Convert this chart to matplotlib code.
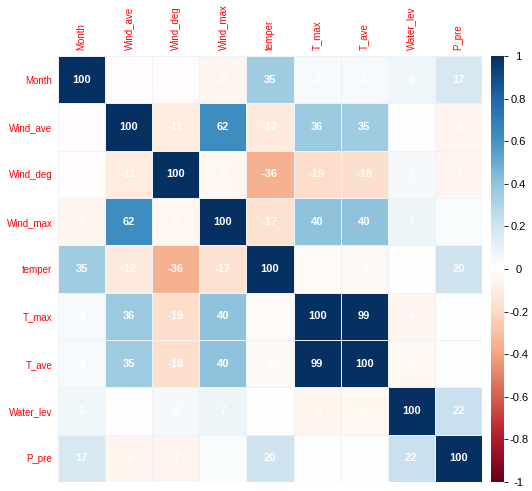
import numpy as np
import matplotlib
matplotlib.use("Agg")
import matplotlib.pyplot as plt
from matplotlib.colors import LinearSegmentedColormap

plt.rcParams['font.family'] = ['Liberation Sans', 'DejaVu Sans']

# variables du tableau de correlation
variables = ['Month', 'Wind_ave', 'Wind_deg', 'Wind_max', 'temper',
             'T_max', 'T_ave', 'Water_lev', 'P_pre']

# correlations (x100)
row_month = [100, -2, -2, -6, 35, 3, 3, 6, 17]
row_wind_ave = [-2, 100, -11, 62, -12, 36, 35, 0, -6]
row_wind_deg = [-2, -11, 100, -5, -36, -19, -18, 4, -7]
row_wind_max = [-6, 62, -5, 100, -17, 40, 40, 7, 2]
row_temper = [35, -12, -36, -17, 100, -3, -4, 0, 20]
row_t_max = [3, 36, -19, 40, -3, 100, 99, -6, 1]
row_t_ave = [3, 35, -18, 40, -4, 99, 100, -5, 1]
row_water_lev = [6, 0, 4, 7, 0, -6, -5, 100, 22]
row_p_pre = [17, -6, -7, 2, 20, 1, 1, 22, 100]

cbar_ticks = [-1, -0.8, -0.6, -0.4, -0.2, 0, 0.2, 0.4, 0.6, 0.8, 1]

corr = np.array([row_month, row_wind_ave, row_wind_deg, row_wind_max,
                 row_temper, row_t_max, row_t_ave, row_water_lev,
                 row_p_pre]) / 100.0

# palette RdBu facon corrplot
cmap = LinearSegmentedColormap.from_list('col2', [
    "#67001F", "#B2182B", "#D6604D", "#F4A582", "#FDDBC7", "#FFFFFF",
    "#D1E5F0", "#92C5DE", "#4393C3", "#2166AC", "#053061"], N=200)

W, H = 532, 491
fig = plt.figure(figsize=(W / 100, H / 100), dpi=100)
ax = fig.add_axes([58 / W, (H - 482) / H, 424 / W, 426 / H])
cax = fig.add_axes([491 / W, (H - 482) / H, 13 / W, 426 / H])

n = len(variables)
mesh = ax.pcolormesh(np.arange(n + 1), np.arange(n + 1), corr, cmap=cmap,
                     vmin=-1, vmax=1, edgecolor='#eef2f6', linewidth=0.6)
ax.set_xlim(0, n)
ax.set_ylim(n, 0)

# valeurs dans les cases (les zeros ne sont pas affiches)
for i in range(n):
    for j in range(n):
        val = int(round(corr[i, j] * 100))
        if val == 0:
            continue
        ax.text(j + 0.5, i + 0.5, str(val), ha='center', va='center',
                color='white', fontsize=8, fontweight='bold')

ax.set_xticks(np.arange(n) + 0.5)
ax.set_yticks(np.arange(n) + 0.5)
ax.set_xticklabels(variables, rotation=90, color='red', fontsize=7)
ax.set_yticklabels(variables, color='red', fontsize=7)
ax.xaxis.tick_top()
ax.tick_params(length=0, pad=4)
for s in ax.spines.values():
    s.set_visible(False)

cb = fig.colorbar(mesh, cax=cax, ticks=cbar_ticks)
cb.outline.set_visible(False)
cb.ax.set_yticklabels([('%g' % t) for t in cbar_ticks])
cb.ax.tick_params(length=3, width=0.6, pad=7.5, labelsize=8, colors='black')
for lab in cb.ax.get_yticklabels():
    lab.set_horizontalalignment('center')

fig.savefig('out.png', dpi=100)
